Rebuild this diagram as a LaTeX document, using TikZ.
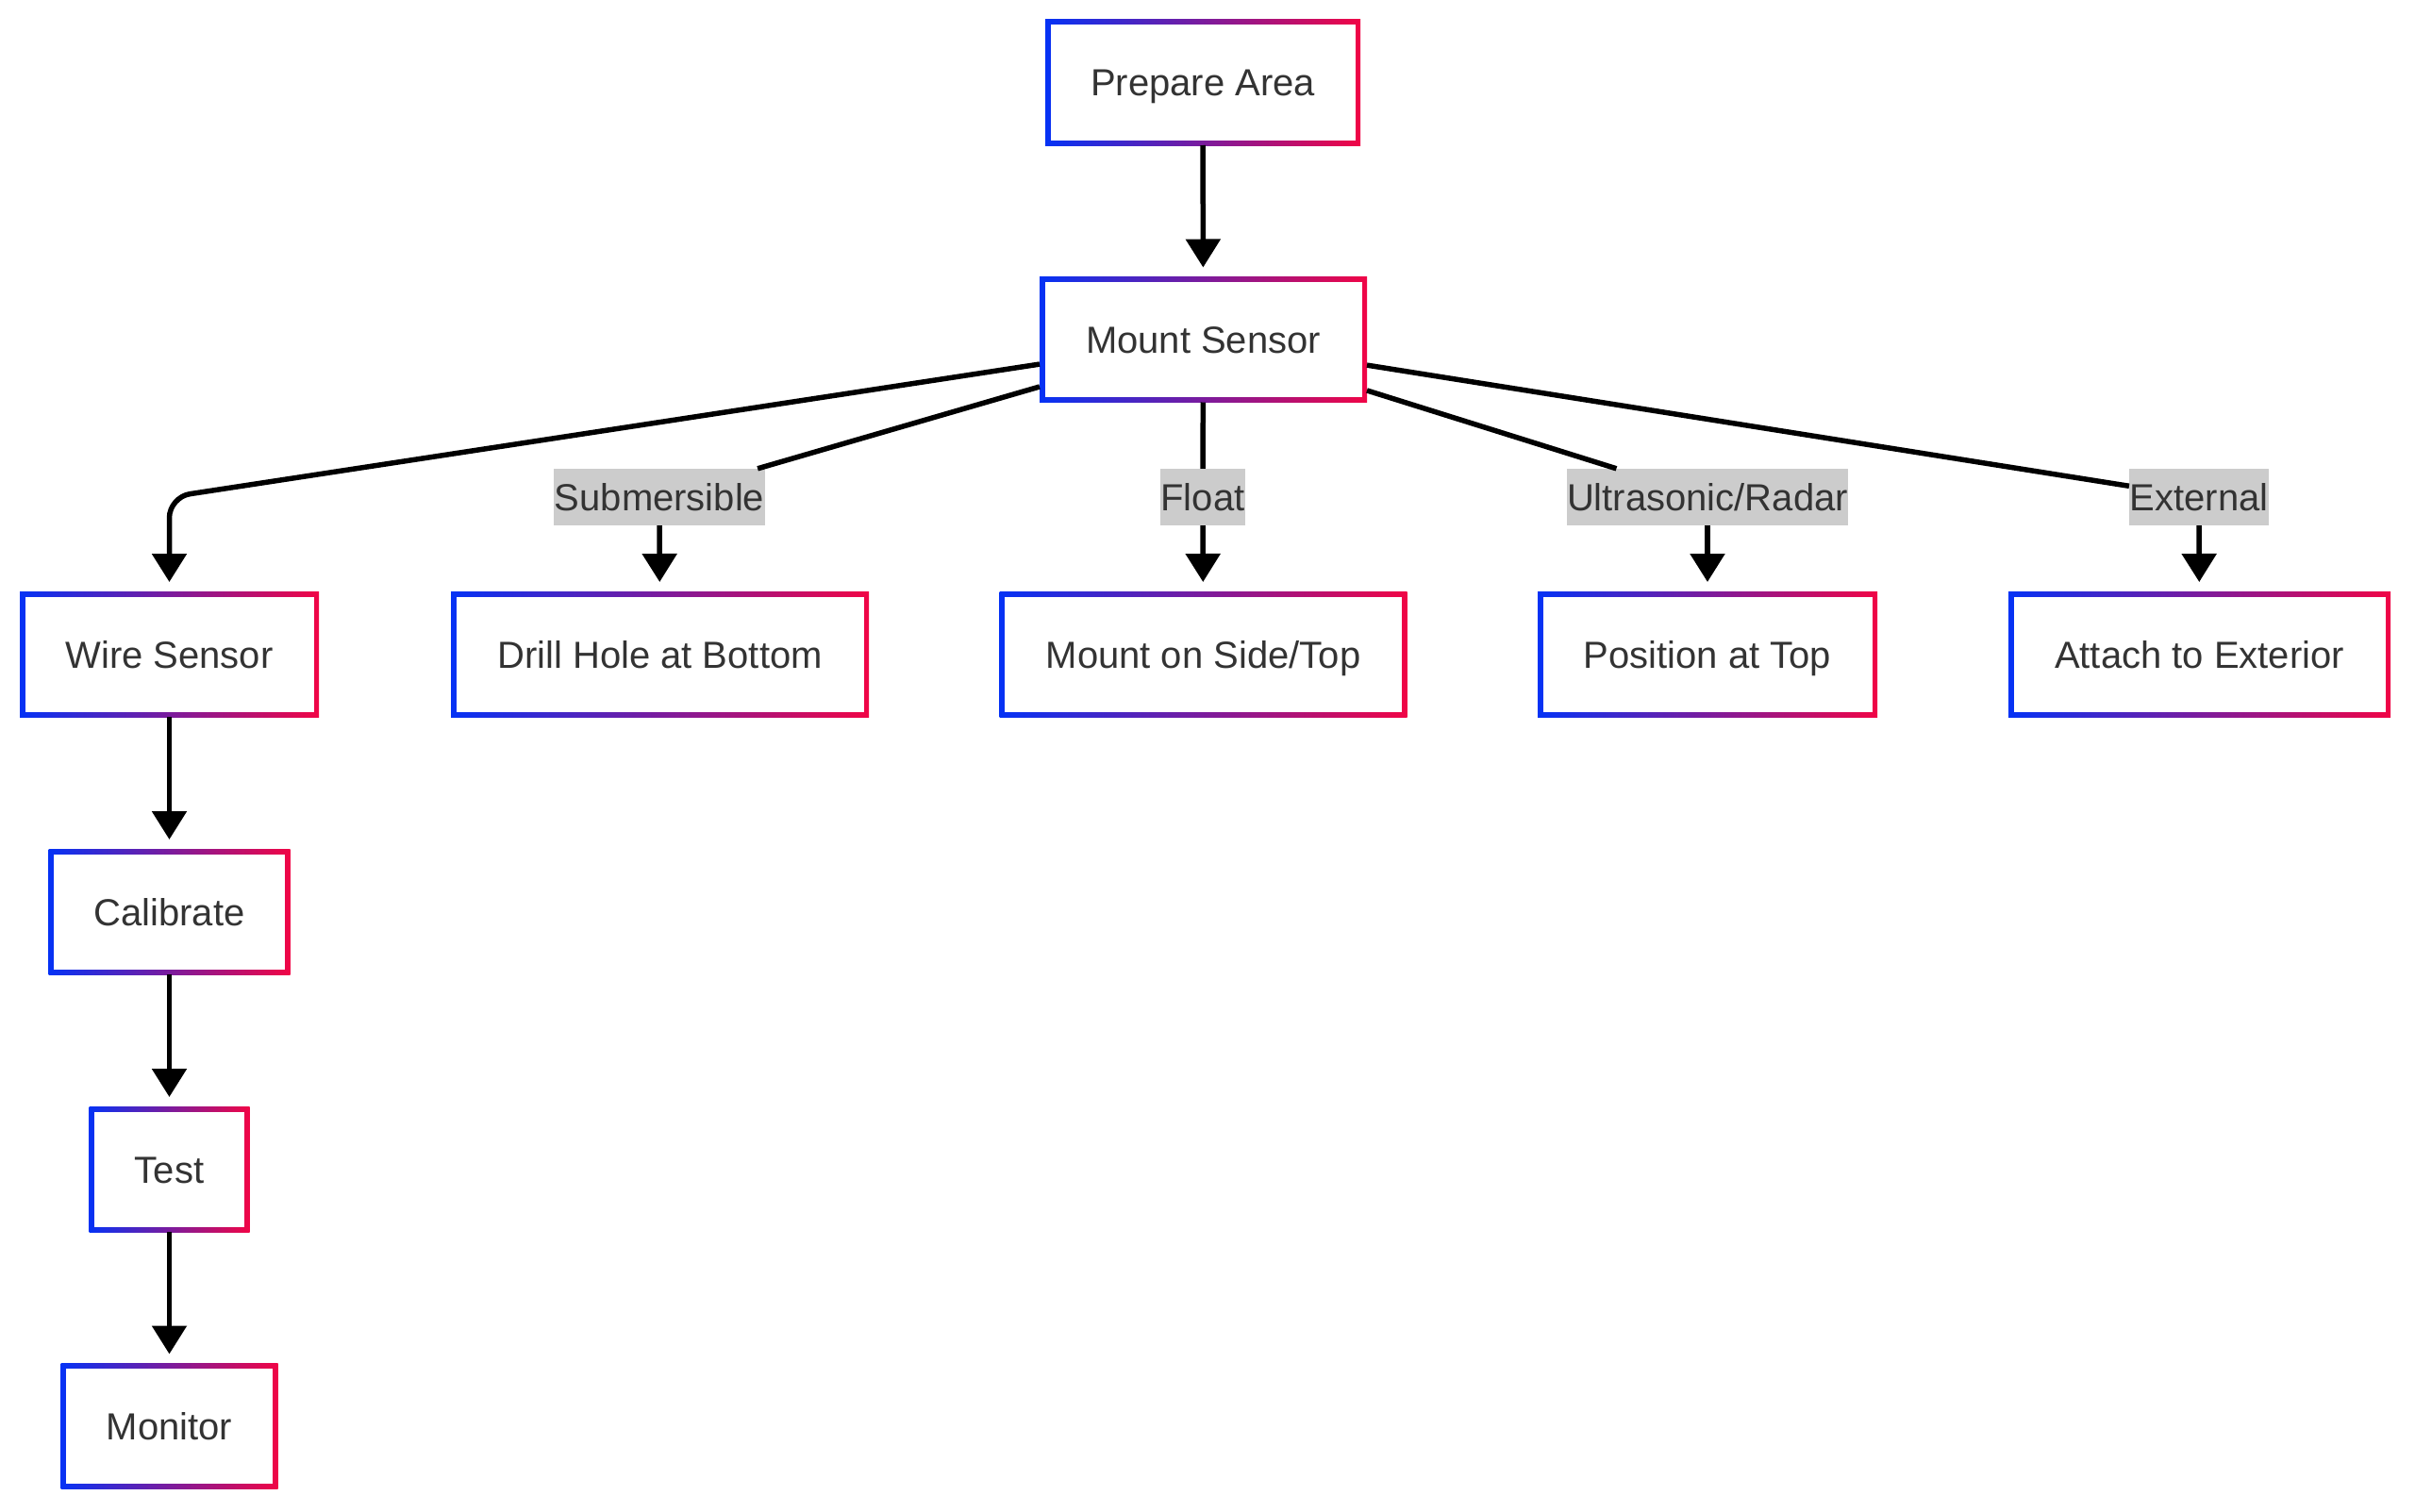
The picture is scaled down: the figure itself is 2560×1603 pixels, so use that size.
\documentclass[tikz,border=0pt]{standalone}
\usepackage{fontspec}
\setmainfont{Liberation Sans}
\usetikzlibrary{arrows.meta}
\pgfdeclarelayer{background}
\pgfsetlayers{background,main}
\definecolor{gblue}{RGB}{5,50,245}
\definecolor{gred}{RGB}{240,5,70}
\definecolor{txt}{RGB}{51,51,51}
\definecolor{lblbg}{RGB}{204,204,204}
\begin{document}
\begin{tikzpicture}[x=1pt,y=-1pt,
  gbox/.style={left color=gblue, right color=gred, minimum height=133pt,
    inner sep=0pt, outer sep=0pt, text=txt,
    font=\fontsize{40}{48}\selectfont, text height=29pt, text depth=0pt,
    path picture={\fill[white]
      ([shift={(5.5pt,-5.5pt)}]path picture bounding box.north west) rectangle
      ([shift={(-5.5pt,5.5pt)}]path picture bounding box.south east);}},
  elabel/.style={fill=lblbg, text=txt, font=\fontsize{40}{48}\selectfont,
    inner sep=0pt, inner xsep=0.5pt, minimum height=60pt,
    text height=29pt, text depth=0pt},
  seg/.style={line width=5.5pt, black},
  conn/.style={seg, -{Triangle[width=36pt,length=30pt]}, shorten >=10pt},
  softshadow/.style={fill=black, opacity=0.012}]
\useasboundingbox (0,0) rectangle (2560,1603);
\fill[white] (0,0) rectangle (2560,1603);

% nodes
\node[gbox, minimum width=334pt] (pa)  at (1275,87.5)   {Prepare Area};
\node[gbox, minimum width=347pt] (ms)  at (1275.5,360)  {Mount Sensor};
\node[gbox, minimum width=317pt] (ws)  at (179.5,693.5) {Wire Sensor};
\node[gbox, minimum width=443pt] (dh)  at (699.5,693.5) {Drill Hole at Bottom};
\node[gbox, minimum width=432pt] (mst) at (1275.5,693.5) {Mount on Side/Top};
\node[gbox, minimum width=360pt] (pt)  at (1810,693.5)  {Position at Top};
\node[gbox, minimum width=405pt] (ae)  at (2331.5,693.5) {Attach to Exterior};
\node[gbox, minimum width=256pt] (cal) at (179.5,966.5) {Calibrate};
\node[gbox, minimum width=170pt] (tst) at (179.5,1239.5) {Test};
\node[gbox, minimum width=230pt] (mon) at (179.5,1512)  {Monitor};

% soft shadows
\begin{pgfonlayer}{background}
\foreach \n in {pa,ms,ws,dh,mst,pt,ae,cal,tst,mon}{
  \foreach \k in {0,1.5,...,9}{
    \fill[softshadow]
      ([shift={(3pt-\k pt,-5pt+\k pt)}]\n.north west) rectangle
      ([shift={(3pt+\k pt,-5pt-\k pt)}]\n.south east);
  }
}
\end{pgfonlayer}

% edge labels
\node[elabel] (lsub) at (699,527)  {Submersible};
\node[elabel] (lflt) at (1275,527) {Float};
\node[elabel] (lult) at (1810,527) {Ultrasonic/Radar};
\node[elabel] (lext) at (2331,527) {External};
\coordinate (c1) at (179.5,527);

% connectors
\draw[conn] (pa) -- (ms);
\draw[conn, rounded corners=22pt] (ms) -- (c1) -- (ws);
\draw[seg] (ms) -- (lsub);
\draw[conn] (lsub) -- (dh);
\draw[seg] (ms) -- (lflt);
\draw[conn] (lflt) -- (mst);
\draw[seg] (ms) -- (lult);
\draw[conn] (lult) -- (pt);
\draw[seg] (ms) -- (lext);
\draw[conn] (lext) -- (ae);
\draw[conn] (ws) -- (cal);
\draw[conn] (cal) -- (tst);
\draw[conn] (tst) -- (mon);
\end{tikzpicture}
\end{document}
